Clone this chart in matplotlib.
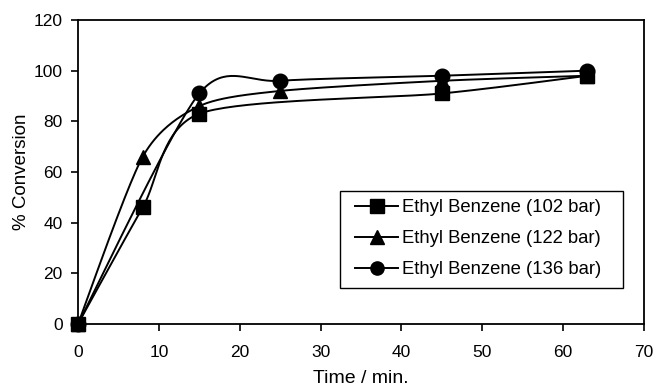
import numpy as np
import matplotlib.pyplot as plt
from matplotlib.lines import Line2D
from matplotlib.patches import Rectangle

plt.rcParams['font.family'] = ['Liberation Sans', 'DejaVu Sans']

# data
t_102 = [0, 8, 15, 45, 63]
c_102 = [0, 46, 83, 91, 98]
t_122 = [0, 8, 15, 25, 45, 63]
c_122 = [0, 66, 86, 92, 96, 98]
t_136 = [0, 15, 25, 45, 63]
c_136 = [0, 91, 96, 98, 100]
labels = ['Ethyl Benzene (102 bar)', 'Ethyl Benzene (122 bar)', 'Ethyl Benzene (136 bar)']
markers = ['s', '^', 'o']


def smooth_curve(x, y, k=0.13, n=40):
    # Bezier smoothing similar to spreadsheet "smoothed line"
    p = np.column_stack([x, y]).astype(float)
    pts = np.vstack([p[0], p, p[-1]])
    out = []
    s = np.linspace(0, 1, n)[:, None]
    for i in range(1, len(pts) - 2):
        p0, p1 = pts[i], pts[i + 1]
        c1 = p0 + (pts[i + 1] - pts[i - 1]) * k
        c2 = p1 - (pts[i + 2] - pts[i]) * k
        seg = ((1 - s) ** 3) * p0 + 3 * ((1 - s) ** 2) * s * c1 + 3 * (1 - s) * s ** 2 * c2 + s ** 3 * p1
        out.append(seg)
    out = np.vstack(out)
    return out[:, 0], out[:, 1]


fig = plt.figure(figsize=(6.56, 3.86), dpi=100)
ax = fig.add_axes([78 / 656, 62 / 386, 566 / 656, 304 / 386])

series = [(t_102, c_102), (t_122, c_122), (t_136, c_136)]
handles = []
for (t, c), m, lab in zip(series, markers, labels):
    xs, ys = smooth_curve(t, c)
    ax.plot(xs, ys, color='black', linewidth=1.4)
    ax.plot(t, c, linestyle='none', marker=m, color='black', markersize=10.5, clip_on=False, zorder=5)
    handles.append(Line2D([], [], color='black', linewidth=1.4, marker=m, markersize=9.5, label=lab))

ax.set_xlim(0, 70)
ax.set_ylim(0, 120)
ax.set_xticks(range(0, 71, 10))
ax.set_yticks(range(0, 121, 20))
ax.tick_params(direction='out', length=5, width=1.2, labelsize=12.5, colors='black')
ax.tick_params(axis='x', pad=10)
ax.tick_params(axis='y', pad=6)
for sp in ax.spines.values():
    sp.set_linewidth(1.3)

ax.set_xlabel('Time / min.', fontsize=14, va='baseline')
ax.xaxis.set_label_coords(0.5, -0.194)
ax.set_ylabel('% Conversion', fontsize=13.5, labelpad=3)

# legend box drawn separately, entries placed inside
ax.add_patch(Rectangle((0.463, 0.118), 0.5, 0.32, transform=ax.transAxes,
                       facecolor='white', edgecolor='black', linewidth=1.0, zorder=6))
leg = ax.legend(handles=handles, loc='upper left', bbox_to_anchor=(0.49, 0.41),
                fontsize=13.3, frameon=False, handlelength=2.3, handletextpad=0.25,
                borderpad=0, labelspacing=0.75, borderaxespad=0)
leg.set_zorder(7)

fig.savefig('out.png', dpi=100)
